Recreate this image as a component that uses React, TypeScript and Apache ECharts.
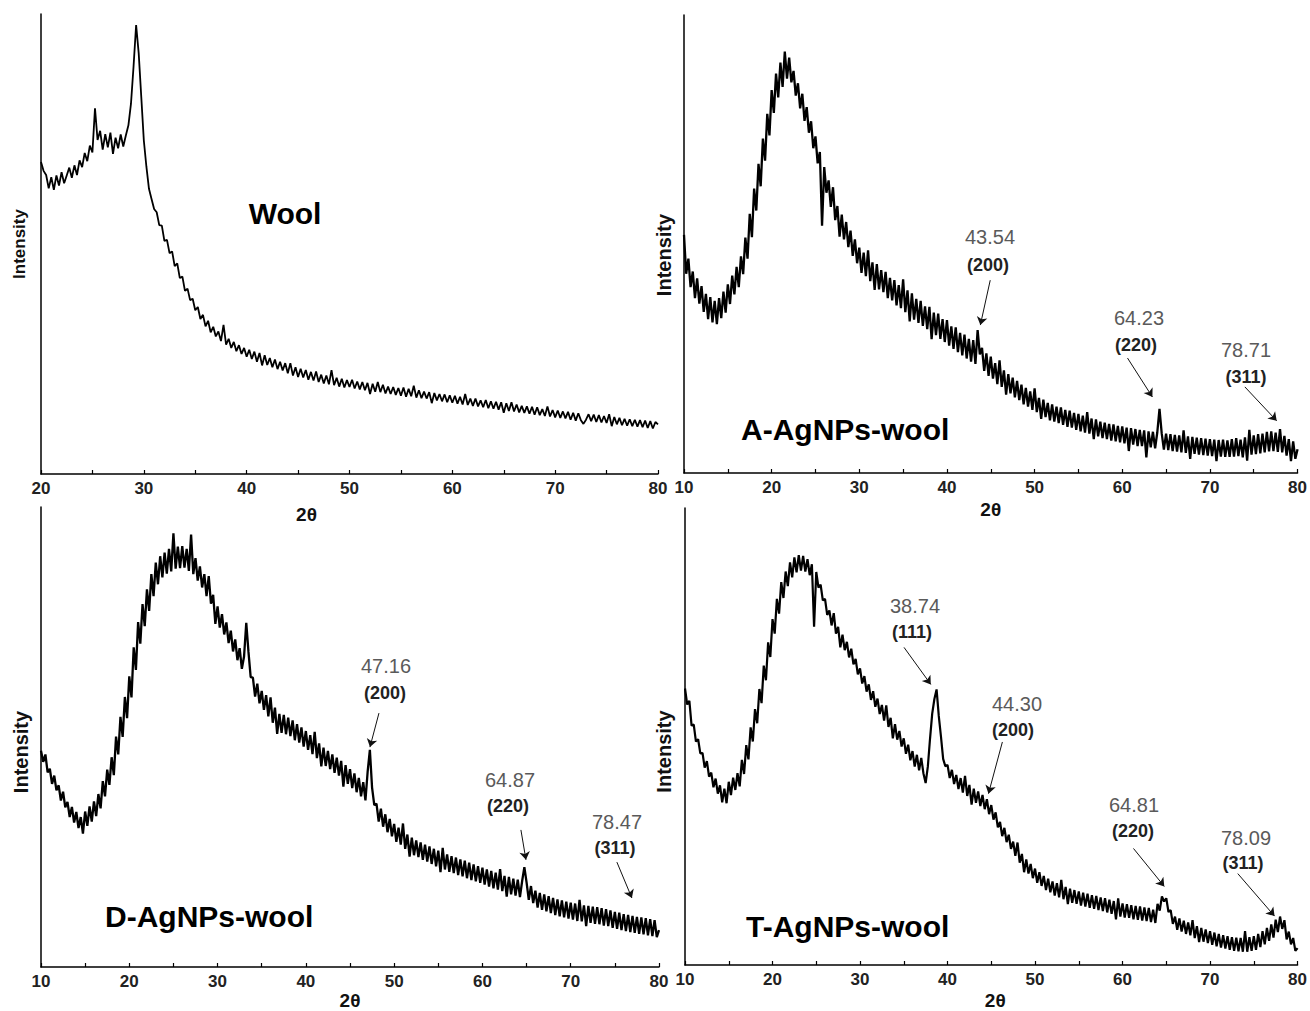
import React, { useEffect, useRef } from "react";
import * as echarts from "echarts";

// Scan settings (degrees 2θ)
const woolStart = 20;
const agStart = 10;
const scanStep = 0.25;

// Intensities (arbitrary units, 0–100 of each panel's height)
const woolIntensity = [
  67.8, 65.9, 65.0, 62.1, 64.5, 61.8, 64.9, 62.7, 65.6, 63.2, 64.9, 66.6, 64.4, 67.1, 65.0, 68.2,
  66.7, 69.8, 68.0, 71.4, 69.9, 79.5, 72.6, 74.6, 70.5, 73.9, 71.0, 74.2, 69.6, 73.1, 70.8, 73.8,
  71.2, 73.6, 75.8, 80.5, 88.6, 97.6, 91.5, 82.0, 72.5, 66.8, 62.0, 59.8, 57.6, 56.9, 54.1, 54.0,
  50.7, 50.9, 48.0, 48.4, 45.2, 45.8, 42.6, 42.9, 39.8, 40.3, 37.8, 38.1, 35.6, 36.3, 33.7, 34.6,
  32.1, 33.3, 30.8, 32.0, 29.9, 31.0, 28.9, 32.4, 28.1, 29.4, 27.4, 28.7, 26.7, 28.0, 26.1, 27.4,
  25.5, 27.0, 25.0, 26.6, 24.4, 26.3, 23.6, 25.8, 23.7, 25.2, 23.2, 24.9, 22.8, 24.4, 22.5, 24.1,
  21.9, 24.1, 21.4, 23.2, 21.1, 22.9, 21.0, 22.6, 20.5, 22.2, 20.3, 22.3, 20.0, 21.6, 19.7, 21.4,
  19.5, 22.6, 19.3, 20.9, 19.0, 20.7, 18.8, 20.4, 18.9, 20.5, 18.6, 20.1, 18.4, 20.0, 18.2, 19.8,
  17.4, 19.6, 17.9, 20.0, 17.8, 19.4, 17.5, 19.0, 17.4, 18.9, 17.2, 18.7, 17.0, 18.8, 16.8, 18.5,
  16.9, 19.2, 16.6, 18.2, 16.5, 17.9, 16.4, 17.8, 15.4, 17.6, 16.0, 17.4, 15.8, 17.3, 15.6, 17.1,
  15.5, 17.0, 15.3, 16.8, 15.1, 17.4, 15.0, 16.4, 14.8, 16.4, 14.7, 16.0, 14.5, 16.1, 14.3, 15.8,
  14.2, 15.7, 14.0, 15.6, 13.3, 15.4, 13.7, 15.6, 13.6, 15.1, 13.4, 14.8, 13.3, 14.7, 13.1, 14.6,
  12.9, 14.5, 12.8, 14.1, 12.6, 14.7, 12.5, 13.9, 12.3, 13.8, 12.2, 13.6, 12.1, 13.5, 11.8, 13.3,
  11.6, 13.2, 11.7, 10.9, 11.8, 13.0, 11.5, 12.9, 11.3, 12.8, 11.2, 12.6, 11.1, 13.0, 10.4, 12.4,
  10.8, 12.2, 10.6, 12.0, 10.5, 11.9, 10.4, 11.8, 10.3, 11.7, 10.2, 11.6, 10.0, 11.5, 9.9, 11.3,
  10.8,
];

const aIntensity = [
  52.0, 43.5, 46.8, 40.6, 44.0, 38.2, 42.5, 37.0, 40.8, 35.2, 39.1, 33.6, 38.4, 32.9, 37.6, 32.5,
  38.2, 33.8, 39.6, 35.0, 41.2, 36.9, 43.1, 39.0, 45.0, 40.6, 47.3, 43.4, 51.4, 46.8, 56.6, 51.5,
  62.1, 57.3, 67.5, 62.6, 73.0, 68.2, 78.4, 73.7, 83.6, 78.6, 87.2, 82.0, 89.6, 84.3, 92.0, 86.1,
  90.7, 85.3, 87.8, 82.4, 85.1, 79.6, 82.8, 76.9, 79.9, 74.3, 76.8, 70.9, 73.5, 67.6, 70.1, 54.0,
  66.8, 61.2, 63.9, 58.1, 62.4, 55.2, 58.3, 51.6, 56.4, 51.0, 54.8, 49.3, 52.9, 47.4, 51.0, 45.8,
  49.2, 43.7, 48.1, 43.0, 48.6, 41.9, 46.0, 40.0, 45.6, 40.1, 44.3, 39.5, 43.9, 38.2, 42.6, 37.7,
  42.1, 36.6, 41.0, 36.0, 42.3, 35.1, 39.9, 33.1, 39.2, 33.5, 38.0, 32.8, 37.6, 32.1, 36.4, 31.4,
  36.3, 29.2, 35.0, 30.1, 34.8, 29.3, 33.6, 28.6, 33.4, 27.8, 32.0, 27.1, 31.8, 26.4, 30.6, 25.7,
  30.2, 25.0, 29.3, 24.3, 29.0, 23.8, 31.2, 25.9, 27.3, 22.3, 26.1, 21.2, 25.4, 20.6, 24.0, 19.4,
  24.6, 18.8, 22.4, 17.1, 21.6, 17.4, 20.8, 16.5, 20.1, 15.9, 19.3, 15.0, 18.6, 14.5, 17.8, 13.8,
  18.5, 13.3, 16.4, 11.8, 16.0, 12.2, 15.3, 11.5, 15.0, 11.2, 14.5, 10.9, 14.3, 10.5, 13.8, 10.1,
  13.6, 9.9, 13.1, 9.4, 12.9, 9.1, 12.5, 8.8, 13.3, 8.6, 11.9, 7.4, 11.7, 8.0, 11.2, 7.6,
  11.0, 7.4, 10.7, 7.1, 10.6, 6.9, 10.3, 6.7, 10.2, 6.5, 9.9, 4.8, 9.8, 6.2, 9.6, 5.9,
  9.4, 5.9, 9.3, 3.4, 9.1, 5.6, 9.0, 5.4, 8.9, 14.0, 8.7, 5.1, 8.6, 5.0, 8.5, 4.8,
  8.3, 4.7, 8.2, 4.5, 9.3, 4.4, 8.0, 3.1, 7.9, 4.2, 7.7, 4.0, 7.6, 3.9, 7.5, 3.8,
  7.4, 3.7, 7.3, 2.6, 7.2, 3.6, 7.3, 3.5, 7.1, 3.5, 7.4, 3.6, 7.6, 3.7, 7.3, 3.4,
  7.8, 2.7, 9.4, 4.0, 8.2, 4.1, 8.5, 4.3, 8.6, 4.5, 9.0, 4.7, 9.1, 4.8, 8.8, 4.6,
  9.6, 4.5, 8.1, 3.8, 7.4, 2.6, 6.9, 3.1, 5.2,
];

const dIntensity = [
  47.0, 44.6, 46.2, 42.3, 43.1, 39.8, 41.6, 38.4, 39.5, 36.2, 38.1, 34.7, 35.9, 32.6, 34.8, 31.4,
  33.7, 30.2, 32.6, 29.0, 33.8, 30.7, 34.9, 31.6, 36.0, 32.8, 37.6, 34.5, 40.4, 37.1, 42.9, 39.6,
  45.6, 41.7, 50.1, 46.2, 54.4, 50.0, 58.7, 54.1, 63.2, 58.6, 69.5, 64.6, 75.0, 70.3, 78.9, 74.1,
  82.1, 77.4, 85.4, 80.6, 87.9, 83.2, 89.3, 84.7, 90.1, 85.5, 90.9, 86.0, 94.3, 86.6, 91.4, 86.7,
  91.5, 86.8, 90.9, 86.1, 94.0, 85.4, 88.9, 84.0, 87.1, 82.5, 85.4, 80.6, 85.0, 79.0, 80.9, 74.6,
  78.4, 73.8, 76.7, 72.3, 74.9, 70.4, 73.1, 68.6, 71.2, 66.7, 69.3, 64.8, 67.5, 74.8, 68.5, 63.0,
  62.9, 58.8, 61.6, 57.3, 60.0, 55.9, 59.1, 54.5, 58.6, 53.1, 56.4, 50.7, 55.0, 50.9, 54.8, 50.6,
  54.2, 50.2, 53.6, 49.3, 52.8, 48.8, 52.1, 47.9, 51.3, 47.2, 50.4, 46.3, 51.1, 45.4, 48.6, 43.6,
  47.7, 43.7, 47.0, 43.0, 46.2, 42.2, 45.5, 41.6, 44.8, 39.2, 43.9, 39.8, 43.0, 38.9, 42.1, 38.0,
  41.1, 37.1, 40.2, 36.2, 42.5, 47.2, 39.0, 35.2, 35.5, 31.6, 34.4, 30.5, 33.2, 29.3, 32.2, 28.4,
  31.1, 27.2, 30.3, 26.6, 31.2, 25.7, 28.8, 24.0, 28.1, 24.3, 27.5, 23.9, 27.1, 23.3, 26.6, 22.9,
  26.2, 22.4, 25.7, 21.9, 25.3, 20.6, 25.9, 21.2, 24.5, 20.7, 24.1, 20.4, 23.8, 20.0, 23.4, 19.7,
  23.1, 19.3, 22.7, 18.9, 22.3, 18.6, 21.9, 18.3, 21.6, 17.9, 21.2, 17.5, 20.9, 17.1, 20.5, 16.8,
  21.3, 16.5, 19.8, 15.3, 19.6, 15.8, 19.2, 15.5, 19.0, 15.2, 18.7, 21.7, 18.4, 14.6, 17.6, 13.9,
  16.6, 12.9, 16.1, 12.4, 15.8, 12.1, 15.4, 11.7, 15.0, 11.3, 14.7, 11.0, 14.5, 10.8, 14.2, 10.5,
  14.0, 10.3, 13.8, 10.0, 14.6, 9.9, 13.4, 8.9, 13.3, 9.6, 13.1, 9.4, 13.0, 9.3, 12.8, 9.0,
  12.6, 8.9, 12.3, 8.5, 12.0, 8.3, 11.8, 8.0, 11.5, 7.8, 11.3, 7.6, 11.1, 7.4, 10.9, 7.2,
  10.8, 7.1, 10.6, 6.9, 10.4, 6.7, 10.2, 6.5, 8.0,
];

const tIntensity = [
  60.5, 57.0, 57.8, 52.4, 52.6, 48.9, 49.4, 46.3, 46.4, 43.2, 44.6, 41.2, 42.1, 38.9, 40.8, 37.5,
  39.3, 35.6, 38.6, 35.4, 40.1, 37.2, 41.0, 38.3, 42.0, 39.1, 44.9, 41.8, 48.1, 45.0, 52.0, 48.9,
  56.0, 52.9, 60.4, 57.3, 65.5, 62.3, 70.6, 67.4, 75.7, 72.5, 80.1, 76.9, 83.8, 80.3, 86.1, 82.9,
  88.1, 84.8, 89.2, 85.9, 89.7, 86.3, 89.5, 86.1, 88.8, 85.3, 87.7, 74.0, 86.0, 82.6, 83.2, 79.8,
  80.1, 76.6, 77.6, 74.3, 77.0, 72.5, 74.0, 69.5, 72.3, 68.9, 70.7, 67.3, 69.2, 65.8, 67.0, 63.6,
  64.9, 61.6, 63.2, 59.8, 61.4, 58.0, 59.9, 56.5, 58.3, 54.9, 56.9, 53.5, 56.8, 52.1, 54.1, 49.6,
  52.7, 49.3, 51.2, 47.8, 49.6, 46.2, 48.2, 44.8, 46.8, 43.4, 46.0, 42.6, 45.3, 41.9, 39.8, 43.4,
  49.5, 55.0, 58.2, 60.3, 54.5, 50.0, 45.1, 43.5, 43.8, 40.9, 42.7, 39.6, 41.6, 38.5, 40.9, 37.7,
  41.4, 37.0, 39.4, 35.1, 38.6, 35.5, 38.0, 34.8, 37.2, 34.1, 36.3, 33.0, 35.0, 31.8, 33.4, 30.1,
  31.3, 28.2, 30.0, 26.9, 28.5, 25.4, 27.0, 23.9, 26.8, 22.4, 24.3, 20.3, 23.1, 20.0, 22.1, 19.0,
  21.1, 18.0, 20.3, 17.3, 19.5, 16.4, 18.9, 15.9, 18.3, 15.2, 17.9, 14.8, 18.6, 14.4, 17.1, 13.3,
  16.7, 13.6, 16.4, 13.4, 16.1, 13.0, 15.8, 12.8, 15.6, 12.5, 15.3, 12.3, 15.1, 12.0, 14.8, 11.8,
  14.6, 11.5, 14.3, 11.2, 14.0, 10.0, 14.6, 10.6, 13.5, 10.4, 13.3, 10.3, 13.1, 10.0, 12.9, 9.9,
  12.8, 9.7, 12.6, 9.6, 12.5, 9.4, 12.1, 9.2, 13.4, 11.9, 15.0, 13.9, 14.6, 11.6, 12.0, 9.0,
  10.6, 7.7, 10.2, 7.3, 9.7, 6.8, 9.3, 6.5, 9.8, 5.9, 8.5, 5.0, 8.1, 5.1, 7.8, 4.8,
  7.4, 4.4, 7.1, 4.1, 6.8, 3.8, 6.5, 3.6, 6.3, 3.3, 6.1, 3.1, 6.0, 3.0, 5.9, 2.9,
  7.4, 2.9, 6.1, 3.1, 6.3, 3.3, 6.8, 3.9, 7.4, 4.5, 8.1, 5.3, 8.9, 6.0, 9.9, 7.2,
  10.6, 7.9, 9.8, 5.6, 7.3, 4.5, 5.9, 3.1, 3.7,
];

const panelTitles = ["Wool", "A-AgNPs-wool", "D-AgNPs-wool", "T-AgNPs-wool"];

// Peak annotations: [2θ label, (hkl)]
const aPeakLabels = [["43.54", "(200)"], ["64.23", "(220)"], ["78.71", "(311)"]];
const dPeakLabels = [["47.16", "(200)"], ["64.87", "(220)"], ["78.47", "(311)"]];
const tPeakLabels = [["38.74", "(111)"], ["44.30", "(200)"], ["64.81", "(220)"], ["78.09", "(311)"]];

const toPairs = (start: number, vals: number[]) => vals.map((v, i) => [start + i * scanStep, v]);

const NARROW = "'Liberation Sans Narrow', 'Arial Narrow', 'Liberation Sans', sans-serif";
const SANS = "'Liberation Sans', Arial, sans-serif";

export default function App() {
  const ref = useRef<HTMLDivElement>(null);

  useEffect(() => {
    if (!ref.current) return;
    const chart = echarts.init(ref.current, undefined, { renderer: "svg" });

    const grids = [
      { left: 41, top: 14, width: 617, height: 460 },
      { left: 684, top: 15, width: 617, height: 458 },
      { left: 41, top: 507, width: 618, height: 460 },
      { left: 685, top: 508, width: 617, height: 459 },
    ];
    const xRanges = [[20, 80], [10, 80], [10, 80], [10, 80]];
    const xNameGaps = [31, 27, 24, 26];
    const xNamePad = [[0, 86, 0, 0], [0, 0, 0, 0], [0, 0, 0, 0], [0, 0, 0, 8]];
    const yNameSize = [17, 20, 20, 20];
    const yNameGap = [13, 10, 10, 11];
    const yNamePad = [[0, 0, 0, 0], [0, 22, 0, 0], [0, 30, 0, 0], [0, 30, 0, 0]];

    const xAxes = grids.map((_, i) => ({
      type: "value",
      gridIndex: i,
      min: xRanges[i][0],
      max: xRanges[i][1],
      interval: 10,
      name: "2θ",
      nameLocation: "middle",
      nameGap: xNameGaps[i],
      nameTextStyle: {
        fontFamily: SANS,
        fontWeight: "bold",
        fontSize: 19,
        color: "#111",
        padding: xNamePad[i],
      },
      axisLine: { show: true, onZero: false, lineStyle: { color: "#000", width: 1.5 } },
      axisTick: { show: true, inside: true, length: 4, lineStyle: { color: "#000", width: 1.2 } },
      minorTick: { show: true, splitNumber: 2, length: 4, lineStyle: { color: "#000", width: 1.2 } },
      axisLabel: {
        show: true,
        margin: 6,
        fontFamily: NARROW,
        fontWeight: "bold",
        fontSize: 17,
        color: "#222",
      },
      splitLine: { show: false },
    }));

    const yAxes = grids.map((_, i) => ({
      type: "value",
      gridIndex: i,
      min: 0,
      max: 100,
      name: "Intensity",
      nameLocation: "middle",
      nameGap: yNameGap[i],
      nameTextStyle: {
        fontFamily: SANS,
        fontWeight: "bold",
        fontSize: yNameSize[i],
        color: "#111",
        padding: yNamePad[i],
      },
      axisLine: { show: true, onZero: false, lineStyle: { color: "#000", width: 1.5 } },
      axisTick: { show: false },
      axisLabel: { show: false },
      splitLine: { show: false },
    }));

    const arrowStyle = {
      symbol: ["none", "arrow"],
      symbolSize: 8,
      silent: true,
      animation: false,
      label: { show: false },
      lineStyle: { color: "#111", width: 1, type: "solid" },
      emphasis: { disabled: true },
    };

    const arrowsA = [
      [[44.94, 42.1], [43.81, 32.3]],
      [[60.6, 25.1], [63.44, 16.6]],
      [[73.99, 18.8], [77.62, 11.4]],
    ];
    const arrowsD = [
      [[48.28, 55.2], [47.26, 47.8]],
      [[64.36, 29.8], [64.93, 23.3]],
      [[75.23, 22.8], [76.93, 15.0]],
    ];
    const arrowsT = [
      [[35.03, 69.5], [38.09, 61.4]],
      [[46.27, 48.8], [44.68, 37.5]],
      [[61.25, 25.5], [64.77, 17.2]],
      [[73.17, 20.0], [77.37, 10.7]],
    ];
    const toMarkLine = (arr: number[][][]) => ({
      ...arrowStyle,
      data: arr.map((a) => [{ coord: a[0] }, { coord: a[1] }]),
    });

    const lineSeries = (i: number, data: number[][], width: number, ml?: any) => ({
      type: "line",
      xAxisIndex: i,
      yAxisIndex: i,
      data,
      showSymbol: false,
      symbol: "none",
      lineStyle: { color: "#000", width },
      silent: true,
      markLine: ml,
    });

    const series = [
      lineSeries(0, toPairs(woolStart, woolIntensity), 1.8),
      lineSeries(1, toPairs(agStart, aIntensity), 2.3, toMarkLine(arrowsA)),
      lineSeries(2, toPairs(agStart, dIntensity), 2.3, toMarkLine(arrowsD)),
      lineSeries(3, toPairs(agStart, tIntensity), 2.2, toMarkLine(arrowsT)),
    ];

    const titleText = (text: string, x: number, y: number, align: string) => ({
      type: "text",
      x,
      y,
      silent: true,
      style: {
        text,
        fontFamily: SANS,
        fontWeight: "bold",
        fontSize: 30,
        fill: "#000",
        align,
        verticalAlign: "middle",
      },
    });
    const valueText = (text: string, x: number, y: number) => ({
      type: "text",
      x,
      y,
      silent: true,
      style: {
        text,
        fontFamily: SANS,
        fontSize: 20,
        fill: "#5a5a5a",
        align: "center",
        verticalAlign: "middle",
      },
    });
    const hklText = (text: string, x: number, y: number) => ({
      type: "text",
      x,
      y,
      silent: true,
      style: {
        text,
        fontFamily: SANS,
        fontWeight: "bold",
        fontSize: 18,
        fill: "#222",
        align: "center",
        verticalAlign: "middle",
      },
    });

    const aPos = [[990, 237, 988, 265], [1139, 318, 1136, 345], [1246, 350, 1246, 377]];
    const dPos = [[386, 666, 385, 693], [510, 780, 508, 806], [617, 822, 615, 848]];
    const tPos = [[915, 606, 912, 632], [1017, 704, 1013, 730], [1134, 805, 1133, 831], [1246, 838, 1243, 863]];

    const annot = (labels: string[][], pos: number[][]) =>
      labels.flatMap((l, k) => [
        valueText(l[0], pos[k][0], pos[k][1]),
        hklText(l[1], pos[k][2], pos[k][3]),
      ]);

    const graphic = [
      titleText(panelTitles[0], 285, 213, "center"),
      titleText(panelTitles[1], 741, 429, "left"),
      titleText(panelTitles[2], 105, 916, "left"),
      titleText(panelTitles[3], 746, 926, "left"),
      ...annot(aPeakLabels, aPos),
      ...annot(dPeakLabels, dPos),
      ...annot(tPeakLabels, tPos),
    ];

    chart.setOption({
      animation: false,
      backgroundColor: "#fff",
      grid: grids.map((g) => ({ ...g, containLabel: false })),
      xAxis: xAxes,
      yAxis: yAxes,
      series,
      graphic,
    } as any);

    return () => chart.dispose();
  }, []);

  return (
    <div
      ref={ref}
      style={{ position: "absolute", left: 0, top: 0, width: 1310, height: 1011, background: "#fff" }}
    />
  );
}
